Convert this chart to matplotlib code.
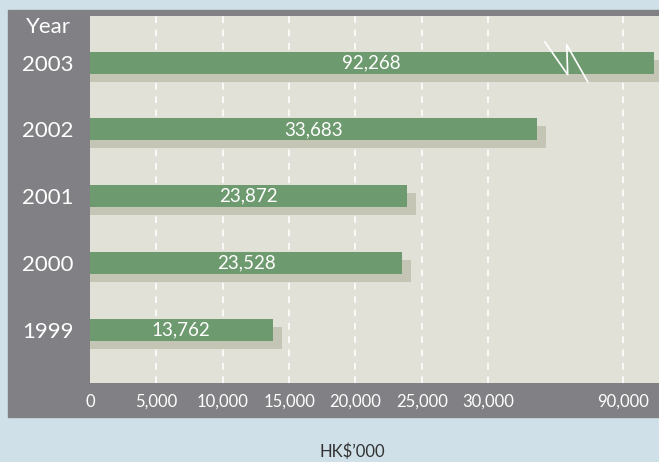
import numpy as np
import matplotlib.pyplot as plt
from matplotlib.patches import Rectangle
from matplotlib.transforms import Affine2D, offset_copy

plt.rcParams['font.family'] = ['Lato', 'DejaVu Sans']

years = ['1999', '2000', '2001', '2002', '2003']
values = np.array([13762, 23528, 23872, 33683, 92268])
value_labels = ['13,762', '23,528', '23,872', '33,683', '92,268']
tick_values = [0, 5000, 10000, 15000, 20000, 25000, 30000, 90000]
tick_labels = ['0', '5,000', '10,000', '15,000', '20,000', '25,000', '30,000', '90,000']

bg = '#cfe0e8'
panel = '#818185'
beige = '#e1e1d7'
green = '#6e9a6f'
shade = '#c4c5b4'

# broken axis: squeeze 36,000 .. 86,000 into a tiny stretch
v_pts = [-100000, 36000, 86000, 300000]
u_pts = [-100000, 36000, 36200, 250200]

def forward(v):
    return np.interp(v, v_pts, u_pts)

def inverse(u):
    return np.interp(u, u_pts, v_pts)

fig = plt.figure(figsize=(6.59, 4.62), dpi=100, facecolor=bg)
fig.add_artist(Rectangle((8 / 659, 45 / 462), 651 / 659, 407 / 462,
                         transform=fig.transFigure, color=panel, zorder=-1))

ax = fig.add_axes([90 / 659, 79 / 462, 569 / 659, 367 / 462])
ax.set_facecolor(beige)
ax.set_xscale('function', functions=(forward, inverse))
ax.set_xlim(0, 92680)
ax.set_ylim(-0.8, 4.7)

pos = np.arange(len(years))

# shadow a little lower and a bit longer than each bar
shadow_tr = offset_copy(ax.transData, fig=fig, x=0, y=-8, units='dots')
ax.barh(pos, values + 680, height=0.33, color=shade, transform=shadow_tr, zorder=2)
ax.barh(pos, values, height=0.33, color=green, zorder=3)

xmax_u = forward(92680)
for p, v, lab in zip(pos, values, value_labels):
    frac = min(forward(v) / xmax_u, 1.0) / 2
    ax.text(frac, p, lab, transform=ax.get_yaxis_transform(), color='white',
            fontsize=13.5, ha='center', va='center', zorder=4)

ax.set_xticks(tick_values, tick_labels)
ax.set_yticks(pos, years)
ax.set_axisbelow(True)
ax.grid(axis='x', color='white', linestyle=(0, (4, 4)), linewidth=1.2)
ax.get_xgridlines()[0].set_visible(False)
ax.tick_params(axis='x', length=0, pad=8, labelcolor='white', labelsize=12)
ax.tick_params(axis='y', length=0, pad=12, labelcolor='white', labelsize=16)
for s in ax.spines.values():
    s.set_visible(False)

# break mark on the 2003 bar
ax_x, ax_y = ax.transData.transform((36000, 4))
ax.plot([-23, 0, -1, 20], [21, -12, 18, -19], color='white', lw=1.2,
        transform=Affine2D().translate(ax_x, ax_y), clip_on=False, zorder=5)

fig.text(26 / 659, 1 - 27 / 462, 'Year', color='white', fontsize=16,
         ha='left', va='center')
fig.text(352 / 659, 1 - 452 / 462, 'HK$\u2019000', color='#333333', fontsize=12,
         ha='center', va='center')

fig.savefig('out.png', dpi=100, facecolor=bg)
